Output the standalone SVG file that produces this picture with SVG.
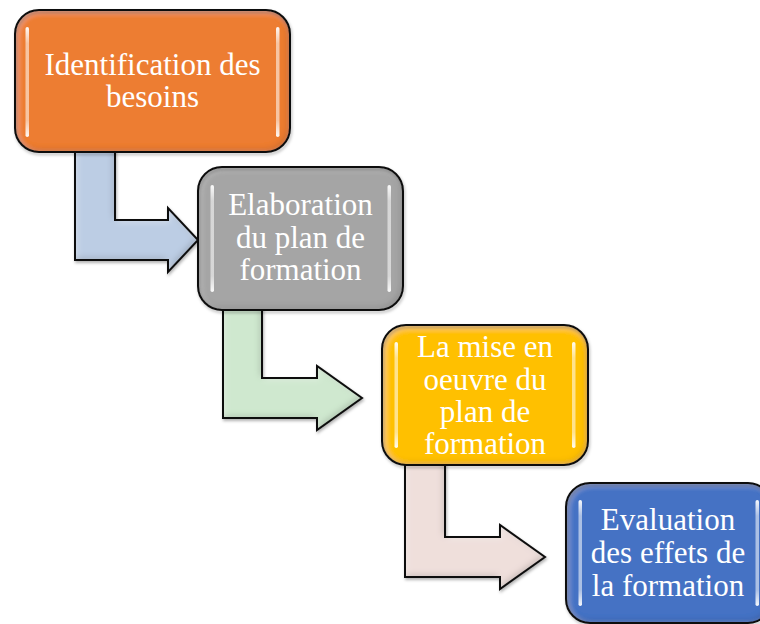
<svg xmlns="http://www.w3.org/2000/svg" width="760" height="624" viewBox="0 0 760 624">
  <defs>
    <!-- soft inner bevel: dark rim toward bottom-right, light rim toward top-left -->
    <filter id="bevel" x="-5%" y="-5%" width="110%" height="110%">
      <feComponentTransfer in="SourceAlpha" result="inv">
        <feFuncA type="table" tableValues="1 0"/>
      </feComponentTransfer>
      <feGaussianBlur in="inv" stdDeviation="3" result="invBlur"/>
      <feOffset in="invBlur" dx="-2" dy="-2" result="darkOff"/>
      <feComposite in="darkOff" in2="SourceAlpha" operator="in" result="darkRim"/>
      <feFlood flood-color="#000" flood-opacity="0.35"/>
      <feComposite in2="darkRim" operator="in" result="darkShade"/>
      <feOffset in="invBlur" dx="2" dy="2" result="lightOff"/>
      <feComposite in="lightOff" in2="SourceAlpha" operator="in" result="lightRim"/>
      <feFlood flood-color="#fff" flood-opacity="0.35"/>
      <feComposite in2="lightRim" operator="in" result="lightShade"/>
      <feMerge>
        <feMergeNode in="SourceGraphic"/>
        <feMergeNode in="darkShade"/>
        <feMergeNode in="lightShade"/>
      </feMerge>
    </filter>
    <filter id="drop" x="-10%" y="-10%" width="120%" height="120%">
      <feDropShadow dx="1" dy="2" stdDeviation="1.5" flood-color="#000" flood-opacity="0.3"/>
    </filter>
    <linearGradient id="bar" x1="0" y1="0" x2="0" y2="1">
      <stop offset="0" stop-color="#fff" stop-opacity="0.95"/>
      <stop offset="0.15" stop-color="#fff" stop-opacity="0.55"/>
      <stop offset="0.85" stop-color="#fff" stop-opacity="0.55"/>
      <stop offset="1" stop-color="#fff" stop-opacity="0.95"/>
    </linearGradient>
    <style>
      .outline { fill: none; stroke: #111; stroke-width: 2; }
      .bar { fill: url(#bar); }
      .label { font-family: "Liberation Serif", "Times New Roman", serif; font-size: 31px; fill: #fff; text-anchor: middle; }
    </style>
  </defs>

  <!-- bent connectors -->
  <g id="connectors">
    <g filter="url(#drop)">
      <path d="M75,148 H115 V220 H168 V208 L198,240 L168,272 V260 H75 Z" fill="#bccde4" filter="url(#bevel)"/>
      <path d="M75,148 H115 V220 H168 V208 L198,240 L168,272 V260 H75 Z" class="outline"/>
    </g>
    <g filter="url(#drop)">
      <path d="M223,306 H262 V378 H317 V366 L362,398 L317,430 V418 H223 Z" fill="#cfe8cf" filter="url(#bevel)"/>
      <path d="M223,306 H262 V378 H317 V366 L362,398 L317,430 V418 H223 Z" class="outline"/>
    </g>
    <g filter="url(#drop)">
      <path d="M405,461 H445 V537 H500 V525 L545,557 L500,589 V577 H405 Z" fill="#efdfdb" filter="url(#bevel)"/>
      <path d="M405,461 H445 V537 H500 V525 L545,557 L500,589 V577 H405 Z" class="outline"/>
    </g>
  </g>

  <!-- step 1 -->
  <g id="n1">
    <rect x="15" y="10" width="275" height="142" rx="24" fill="#ed7d31" filter="url(#bevel)"/>
    <rect x="15" y="10" width="275" height="142" rx="24" class="outline" filter="url(#drop)"/>
    <rect x="25.5" y="27" width="3.5" height="110" rx="1.75" class="bar"/>
    <rect x="276" y="27" width="3.5" height="110" rx="1.75" class="bar"/>
    <text class="label" x="152.5" y="75">Identification des</text>
    <text class="label" x="152.5" y="107">besoins</text>
  </g>

  <!-- step 2 -->
  <g id="n2">
    <rect x="198" y="167" width="205" height="143" rx="24" fill="#a5a5a5" filter="url(#bevel)"/>
    <rect x="198" y="167" width="205" height="143" rx="24" class="outline" filter="url(#drop)"/>
    <rect x="210.5" y="185" width="3.5" height="107" rx="1.75" class="bar"/>
    <rect x="387.5" y="185" width="3.5" height="107" rx="1.75" class="bar"/>
    <text class="label" x="300.5" y="215">Elaboration</text>
    <text class="label" x="300.5" y="248">du plan de</text>
    <text class="label" x="300.5" y="280">formation</text>
  </g>

  <!-- step 3 -->
  <g id="n3">
    <rect x="382" y="325" width="206" height="140" rx="24" fill="#ffc000" filter="url(#bevel)"/>
    <rect x="382" y="325" width="206" height="140" rx="24" class="outline" filter="url(#drop)"/>
    <rect x="394.5" y="342" width="3.5" height="106" rx="1.75" class="bar"/>
    <rect x="572" y="342" width="3.5" height="106" rx="1.75" class="bar"/>
    <text class="label" x="485" y="357">La mise en</text>
    <text class="label" x="485" y="389.5">oeuvre du</text>
    <text class="label" x="485" y="422">plan de</text>
    <text class="label" x="485" y="454">formation</text>
  </g>

  <!-- step 4 (runs past the right edge of the canvas) -->
  <g id="n4">
    <rect x="566" y="483" width="206" height="140" rx="24" fill="#4472c4" filter="url(#bevel)"/>
    <rect x="566" y="483" width="206" height="140" rx="24" class="outline" filter="url(#drop)"/>
    <rect x="578.5" y="500" width="3.5" height="106" rx="1.75" class="bar"/>
    <rect x="755.5" y="500" width="3.5" height="106" rx="1.75" class="bar"/>
    <text class="label" x="668" y="530">Evaluation</text>
    <text class="label" x="668" y="563">des effets de</text>
    <text class="label" x="668" y="596">la formation</text>
  </g>
</svg>
